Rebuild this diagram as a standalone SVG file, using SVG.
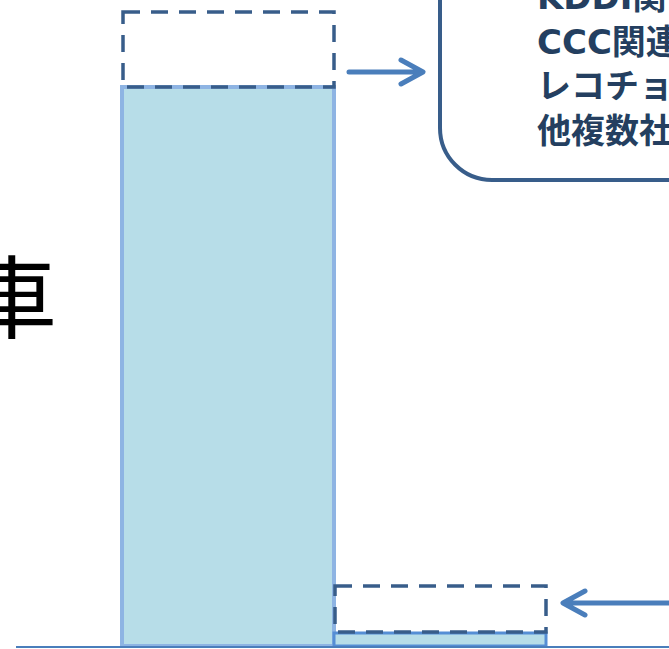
<svg xmlns="http://www.w3.org/2000/svg" width="669" height="649" viewBox="0 0 669 649">
<style>
.dash{fill:none;stroke:#385d8a;stroke-width:3.5;stroke-dasharray:17 11}
.arr{fill:none;stroke:#4a7ebb;stroke-width:5;stroke-linecap:round;stroke-linejoin:round}
.lbl{font-family:"DejaVu Sans","Noto Sans CJK JP",sans-serif;font-weight:bold;font-size:34px;fill:#243f60}
</style>
<rect width="669" height="649" fill="#ffffff"/>
<g id="title-char">
<text x="-33" y="331" font-family="'Noto Sans CJK JP',sans-serif" font-size="90" fill="#000000">車</text>
</g>
<g id="bar-large">
<rect x="122" y="87" width="212" height="559" fill="#b7dde8" stroke="#8eb4e3" stroke-width="4"/>
</g>
<g id="bar-small">
<rect x="334" y="633" width="212" height="13" fill="#b7dde8" stroke="#558ed5" stroke-width="3"/>
</g>
<g id="dash-top">
<rect class="dash" x="123" y="12" width="211" height="75"/>
</g>
<g id="dash-bottom">
<rect class="dash" x="335" y="586" width="211" height="46"/>
</g>
<g id="axis">
<line x1="16" y1="647" x2="669" y2="647" stroke="#4a7ebb" stroke-width="2"/>
</g>
<g id="callout">
<rect x="440" y="-60" width="300" height="240" rx="52" ry="52" fill="#ffffff" stroke="#385d8a" stroke-width="4"/>
<text class="lbl" x="537" y="9">KDDI関</text>
<text class="lbl" x="537" y="53.5">CCC関連</text>
<text class="lbl" x="537" y="98">レコチョ</text>
<text class="lbl" x="537" y="143">他複数社</text>
</g>
<g id="connectors">
<path class="arr" d="M349 72 H422 M401 60 L423 72 L401 84"/>
<path class="arr" d="M669 603 H564 M585 591 L563 603 L585 615"/>
</g>
</svg>
